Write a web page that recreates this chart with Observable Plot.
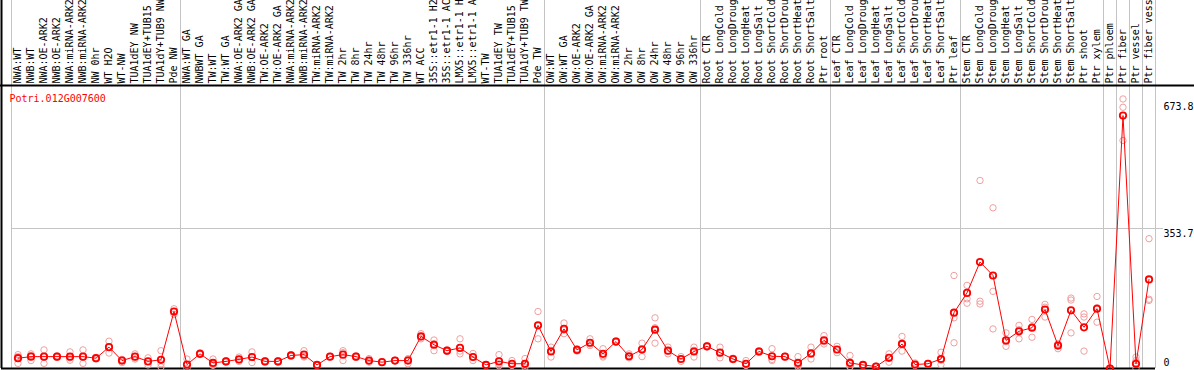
<!DOCTYPE html>
<html>
<head>
<meta charset="utf-8">
<script src="https://cdn.jsdelivr.net/npm/d3@7"></script>
<script src="https://cdn.jsdelivr.net/npm/@observablehq/plot@0.6"></script>
<style>
  html, body { margin: 0; padding: 0; background: #fff; }
  #chart svg { display: block; }
</style>
</head>
<body>
<div id="chart"></div>
<script>
const title = "Potri.012G007600";

const categories = [
  "NWA:WT","NWB:WT","NWA:OE-ARK2","NWB:OE-ARK2","NWA:miRNA-ARK2","NWB:miRNA-ARK2","NW 0hr","WT H2O","WT-NW","TUA1dEY NW","TUA1dEY+TUB15","TUA1dY+TUB9 NW","Pde NW",
  "NWA:WT GA","NWBWT GA","TW:WT","TW:WT GA","NWA:OE-ARK2 GA","NWB:OE-ARK2 GA","TW:OE-ARK2","TW:OE-ARK2 GA","NWA:miRNA-ARK2","NWB:miRNA-ARK2","TW:miRNA-ARK2","TW:miRNA-ARK2","TW 2hr","TW 8hr","TW 24hr","TW 48hr","TW 96hr","TW 336hr","WT ACC","35S::etr1-1 H2","35S::etr1-1 AC","LMX5::etr1-1 H","LMX5::etr1-1 A","WT-TW","TUA1dEY TW","TUA1dEY+TUB15","TUA1dY+TUB9 TW","Pde TW",
  "OW:WT","OW:WT GA","OW:OE-ARK2","OW:OE-ARK2 GA","OW:miRNA-ARK2","OW:miRNA-ARK2","OW 2hr","OW 8hr","OW 24hr","OW 48hr","OW 96hr","OW 336hr",
  "Root CTR","Root LongCold","Root LongDroug","Root LongHeat","Root LongSalt","Root ShortCold","Root ShortDrou","Root ShortHeat","Root ShortSalt","Ptr root",
  "Leaf CTR","Leaf LongCold","Leaf LongDroug","Leaf LongHeat","Leaf LongSalt","Leaf ShortCold","Leaf ShortDrou","Leaf ShortHeat","Leaf ShortSalt","Ptr leaf",
  "Stem CTR","Stem LongCold","Stem LongDroug","Stem LongHeat","Stem LongSalt","Stem ShortCold","Stem ShortDrou","Stem ShortHeat","Stem ShortSalt","Ptr shoot","Ptr xylem",
  "Ptr phloem","Ptr fiber","Ptr vessel","Ptr fiber vess"
];

// number of categories in each separated group
const groupSizes = [13, 28, 12, 10, 10, 11, 1, 1, 1, 1];

// mean expression (red line)
const means = [
  26,30,30,30,30,30,26,54,20,30,18,22,144,
  10,37,14,18,23,29,18,18,33,35,9,30,35,30,20,16,20,20,81,60,45,52,29,9,18,12,12,109,
  43,100,47,65,37,68,31,48,98,45,24,43,
  56,40,24,12,43,31,30,14,38,71,
  48,14,9,5,27,62,10,12,24,141,
  191,269,235,71,94,103,149,58,147,104,151,
  0,639,12,225
];

// replicate values (pale circles)
const rep1 = [
  35,37,47,32,42,47,28,69,23,37,27,45,151,
  24,40,24,20,29,42,20,20,35,45,10,31,45,32,25,17,21,25,88,72,47,75,38,10,35,20,25,144,
  54,115,50,75,50,70,37,64,128,54,24,54,
  58,54,26,20,45,50,31,30,54,83,
  56,33,10,6,37,81,14,13,41,235,
  210,475,406,90,109,124,162,62,173,138,182,
  0,681,29,328
];
const rep2 = [
  13,20,13,28,27,13,24,54,15,29,18,12,144,
  8,35,10,18,18,30,18,18,33,29,9,30,20,30,16,16,20,12,80,45,45,37,20,9,12,8,8,75,
  29,88,47,58,29,68,29,30,64,37,18,29,
  56,27,24,8,43,20,30,8,24,62,
  48,4,9,5,16,44,8,12,10,128,
  176,170,195,56,75,79,130,50,90,130,117,
  0,660,20,172
];
const rep3 = [
  30,33,30,30,21,30,26,39,22,24,9,4,137,
  0,36,8,16,22,15,16,16,31,31,8,29,40,28,19,15,19,23,75,63,43,44,29,8,7,8,3,108,
  46,97,44,62,32,66,27,50,103,44,30,46,
  54,39,22,8,41,23,29,4,36,68,
  40,5,8,4,28,61,8,11,21,65,
  165,163,100,68,98,106,155,62,178,44,154,
  0,576,0,175
];

const yTicks = [0, 353.7, 673.8];
const yMax = 715;

// derived tables
const boundaries = [0];
groupSizes.forEach(s => boundaries.push(boundaries[boundaries.length - 1] + s));
const meanData = means.map((v, i) => ({x: i + 0.5, y: v}));
const repData = [];
[rep1, rep2, rep3].forEach(rep => rep.forEach((v, i) => repData.push({x: i + 0.5, y: v})));
const labelData = categories.map((c, i) => ({x: i + 0.5, label: c}));

const chart = Plot.plot({
  width: 1194,
  height: 370,
  marginLeft: 11,
  marginRight: 39,
  marginTop: 85,
  marginBottom: 2,
  x: {domain: [0, categories.length], axis: null},
  y: {domain: [0, yMax], axis: null},
  style: {fontFamily: "'DejaVu Sans Mono', monospace", fontSize: "10px", background: "#fff", color: "#000"},
  marks: [
    Plot.ruleX(boundaries, {x: d => d, stroke: "#c4c4c4", strokeWidth: 1, insetTop: -85}),
    Plot.ruleY(yTicks.filter(t => t > 0 && t < 600), {y: d => d, stroke: "#c4c4c4", strokeWidth: 1, insetRight: -8}),
    Plot.ruleY([yMax], {y: d => d, stroke: "#000", strokeWidth: 2, insetLeft: -11, insetRight: -39}),
    Plot.ruleY([0], {y: d => d, stroke: "#000", strokeWidth: 2, insetLeft: -10}),
    Plot.ruleX([0], {x: d => d, stroke: "#000", strokeWidth: 2, dx: -10, insetTop: -85}),
    Plot.text(labelData, {x: "x", text: "label", frameAnchor: "top", rotate: -90, textAnchor: "start", lineAnchor: "middle", dy: -2, fill: "#000"}),
    Plot.dot(repData, {x: "x", y: "y", r: 3.2, stroke: "#f0a0a0", strokeWidth: 1, fill: "none"}),
    Plot.line(meanData, {x: "x", y: "y", stroke: "#ff0000", strokeWidth: 1}),
    Plot.dot(meanData, {x: "x", y: "y", r: 3.2, stroke: "#ff0000", strokeWidth: 1.8, fill: "none"}),
    Plot.text([title], {frameAnchor: "top-left", text: d => d, textAnchor: "start", lineAnchor: "bottom", dx: -2, dy: 16, fill: "#ff0000"}),
    Plot.text(yTicks.filter(t => t > 0), {y: d => d, text: d => String(d), frameAnchor: "right", textAnchor: "start", lineAnchor: "top", dx: 8, dy: 1, fill: "#000"}),
    Plot.text(yTicks.filter(t => t === 0), {y: d => d, text: d => String(d), frameAnchor: "right", textAnchor: "start", lineAnchor: "bottom", dx: 8, dy: -3, fill: "#000"})
  ]
});
document.getElementById("chart").appendChild(chart);
</script>
</body>
</html>
